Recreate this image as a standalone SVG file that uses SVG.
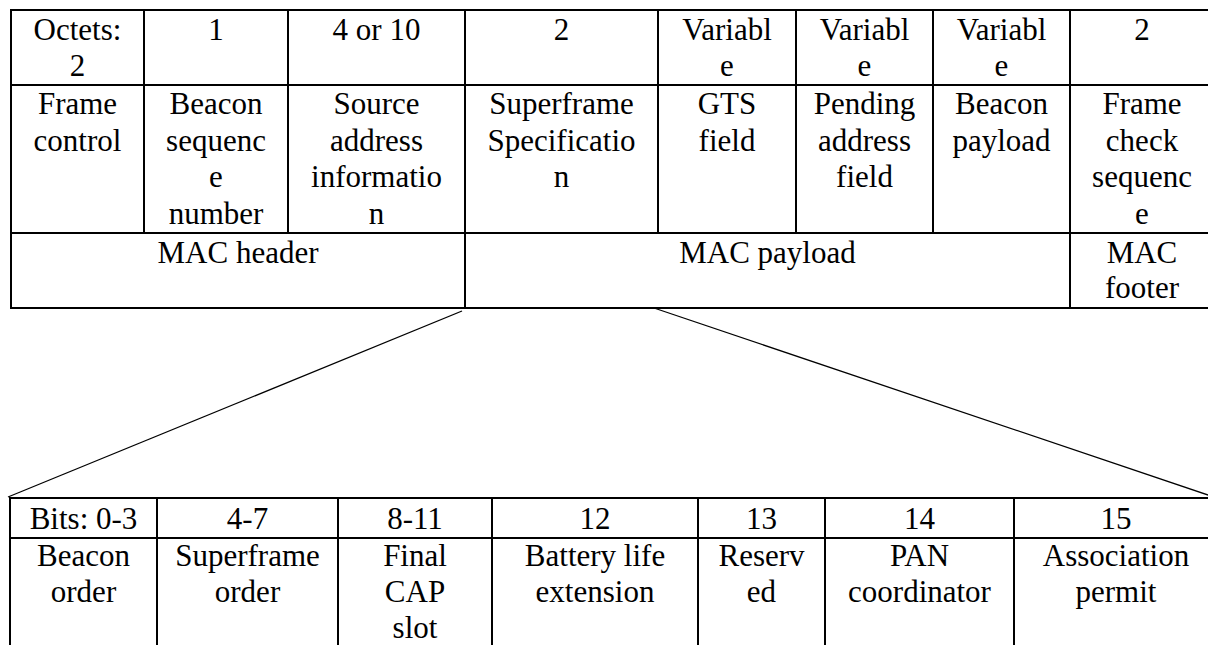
<svg xmlns="http://www.w3.org/2000/svg" width="1208" height="645" viewBox="0 0 1208 645">
<style>
.c{fill:#fff;stroke:#000;stroke-width:2}
.t{font-family:"Liberation Serif","Times New Roman",serif;font-size:31px;fill:#000;text-anchor:middle}
.l{stroke:#000;stroke-width:1.3;fill:none}
</style>
<rect width="1208" height="645" fill="#fff"/>
<g id="connectors">
<line class="l" x1="462" y1="311" x2="8" y2="497"/>
<line class="l" x1="654" y1="308" x2="1214" y2="497"/>
</g>
<g id="mac-frame">
<g id="h-octets"><rect class="c" x="11" y="10" width="133" height="75"/><text class="t" x="77.5" y="40">Octets:</text><text class="t" x="77.5" y="76">2</text></g>
<g id="h-1"><rect class="c" x="144" y="10" width="144" height="75"/><text class="t" x="216" y="40">1</text></g>
<g id="h-4or10"><rect class="c" x="288" y="10" width="177" height="75"/><text class="t" x="376.5" y="40">4 or 10</text></g>
<g id="h-2a"><rect class="c" x="465" y="10" width="193" height="75"/><text class="t" x="561.5" y="40">2</text></g>
<g id="h-var1"><rect class="c" x="658" y="10" width="138" height="75"/><text class="t" x="727" y="40">Variabl</text><text class="t" x="727" y="76">e</text></g>
<g id="h-var2"><rect class="c" x="796" y="10" width="137" height="75"/><text class="t" x="864.5" y="40">Variabl</text><text class="t" x="864.5" y="76">e</text></g>
<g id="h-var3"><rect class="c" x="933" y="10" width="137" height="75"/><text class="t" x="1001.5" y="40">Variabl</text><text class="t" x="1001.5" y="76">e</text></g>
<g id="h-2b"><rect class="c" x="1070" y="10" width="146" height="75"/><text class="t" x="1142" y="40">2</text></g>

<g id="f-frame-control"><rect class="c" x="11" y="85" width="133" height="148"/><text class="t" x="77.5" y="114">Frame</text><text class="t" x="77.5" y="151">control</text></g>
<g id="f-beacon-seq"><rect class="c" x="144" y="85" width="144" height="148"/><text class="t" x="216" y="114">Beacon</text><text class="t" x="216" y="151">sequenc</text><text class="t" x="216" y="187">e</text><text class="t" x="216" y="224">number</text></g>
<g id="f-source"><rect class="c" x="288" y="85" width="177" height="148"/><text class="t" x="376.5" y="114">Source</text><text class="t" x="376.5" y="151">address</text><text class="t" x="376.5" y="187">informatio</text><text class="t" x="376.5" y="224">n</text></g>
<g id="f-superframe"><rect class="c" x="465" y="85" width="193" height="148"/><text class="t" x="561.5" y="114">Superframe</text><text class="t" x="561.5" y="151">Specificatio</text><text class="t" x="561.5" y="187">n</text></g>
<g id="f-gts"><rect class="c" x="658" y="85" width="138" height="148"/><text class="t" x="727" y="114">GTS</text><text class="t" x="727" y="151">field</text></g>
<g id="f-pending"><rect class="c" x="796" y="85" width="137" height="148"/><text class="t" x="864.5" y="114">Pending</text><text class="t" x="864.5" y="151">address</text><text class="t" x="864.5" y="187">field</text></g>
<g id="f-beacon-payload"><rect class="c" x="933" y="85" width="137" height="148"/><text class="t" x="1001.5" y="114">Beacon</text><text class="t" x="1001.5" y="151">payload</text></g>
<g id="f-fcs"><rect class="c" x="1070" y="85" width="146" height="148"/><text class="t" x="1142" y="114">Frame</text><text class="t" x="1142" y="151">check</text><text class="t" x="1142" y="187">sequenc</text><text class="t" x="1142" y="224">e</text></g>

<g id="mac-header"><rect class="c" x="11" y="233" width="454" height="75"/><text class="t" x="238" y="263">MAC header</text></g>
<g id="mac-payload"><rect class="c" x="465" y="233" width="605" height="75"/><text class="t" x="767.5" y="263">MAC payload</text></g>
<g id="mac-footer"><rect class="c" x="1070" y="233" width="146" height="75"/><text class="t" x="1142" y="263">MAC</text><text class="t" x="1142" y="298">footer</text></g>
</g>
<g id="superframe-spec">
<g id="b-0-3"><rect class="c" x="10" y="498" width="147" height="40"/><text class="t" x="83.5" y="529">Bits: 0-3</text></g>
<g id="b-4-7"><rect class="c" x="157" y="498" width="181" height="40"/><text class="t" x="247.5" y="529">4-7</text></g>
<g id="b-8-11"><rect class="c" x="338" y="498" width="154" height="40"/><text class="t" x="415" y="529">8-11</text></g>
<g id="b-12"><rect class="c" x="492" y="498" width="206" height="40"/><text class="t" x="595" y="529">12</text></g>
<g id="b-13"><rect class="c" x="698" y="498" width="127" height="40"/><text class="t" x="761.5" y="529">13</text></g>
<g id="b-14"><rect class="c" x="825" y="498" width="189" height="40"/><text class="t" x="919.5" y="529">14</text></g>
<g id="b-15"><rect class="c" x="1014" y="498" width="204" height="40"/><text class="t" x="1116" y="529">15</text></g>

<g id="s-beacon-order"><rect class="c" x="10" y="538" width="147" height="130"/><text class="t" x="83.5" y="566">Beacon</text><text class="t" x="83.5" y="602">order</text></g>
<g id="s-superframe-order"><rect class="c" x="157" y="538" width="181" height="130"/><text class="t" x="247.5" y="566">Superframe</text><text class="t" x="247.5" y="602">order</text></g>
<g id="s-final-cap"><rect class="c" x="338" y="538" width="154" height="130"/><text class="t" x="415" y="566">Final</text><text class="t" x="415" y="602">CAP</text><text class="t" x="415" y="638">slot</text></g>
<g id="s-battery"><rect class="c" x="492" y="538" width="206" height="130"/><text class="t" x="595" y="566">Battery life</text><text class="t" x="595" y="602">extension</text></g>
<g id="s-reserved"><rect class="c" x="698" y="538" width="127" height="130"/><text class="t" x="761.5" y="566">Reserv</text><text class="t" x="761.5" y="602">ed</text></g>
<g id="s-pan"><rect class="c" x="825" y="538" width="189" height="130"/><text class="t" x="919.5" y="566">PAN</text><text class="t" x="919.5" y="602">coordinator</text></g>
<g id="s-assoc"><rect class="c" x="1014" y="538" width="204" height="130"/><text class="t" x="1116" y="566">Association</text><text class="t" x="1116" y="602">permit</text></g>
</g>
</svg>
